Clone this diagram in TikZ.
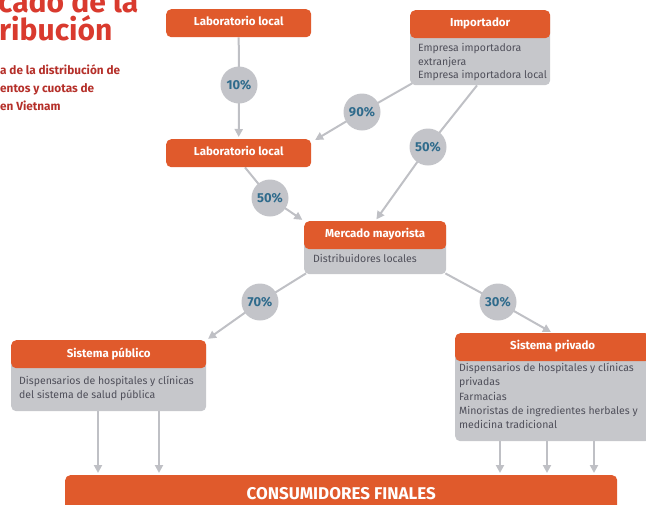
\documentclass[tikz,border=0pt]{standalone}
\usepackage{fontspec}
\setmainfont{Fira Sans}
\usetikzlibrary{arrows.meta,backgrounds}
\definecolor{orng}{HTML}{E05A2C}
\definecolor{boxgray}{HTML}{C6C7CB}
\definecolor{circgray}{HTML}{C3C4C9}
\definecolor{linegray}{HTML}{BFC0C5}
\definecolor{pctblue}{HTML}{2F6B8C}
\definecolor{bodytxt}{HTML}{4F4F5A}
\definecolor{titlered}{HTML}{D93A2E}
\definecolor{subred}{HTML}{B5302A}
\begin{document}
\begin{tikzpicture}[x=1pt,y=-1pt,
  hdr/.style={fill=orng, rounded corners=5pt, text=white, font=\bfseries\fontsize{11.5}{12}\selectfont, anchor=north west, inner sep=0pt, align=center, text depth=4pt},
  bodybox/.style={fill=boxgray, rounded corners=5pt, anchor=north west, inner sep=0pt},
  bodytext/.style={anchor=north west, inner sep=0pt, text=bodytxt, font=\fontsize{10.5}{13.8}\selectfont, align=left},
  pct/.style={circle, fill=circgray, minimum size=37pt, inner sep=0pt, text=pctblue, font=\bfseries\fontsize{13}{13}\selectfont},
  conn/.style={draw=linegray, line width=2pt},
  arr/.style={conn, -{Triangle[length=8pt,width=8pt]}, shorten >=2pt},
  titlef/.style={anchor=base west, inner sep=0pt, text=titlered, font=\bfseries\fontsize{30}{30}\selectfont},
  subf/.style={anchor=base west, inner sep=0pt, text=subred, font=\bfseries\fontsize{11.8}{12}\selectfont}
]
\useasboundingbox (0,0) rectangle (646,504);
\clip (0,0) rectangle (646,504);

% title
\node[titlef] (t1) at (-2,12) {cado de la};
\node[titlef] (t2) at (-1,40) {ribución};
\node[subf] (s1) at (0,74) {a de la distribución de};
\node[subf] (s2) at (0,92) {entos y cuotas de};
\node[subf] (s3) at (0,110) {en Vietnam};

% boxes
\node[hdr, minimum width=145pt, minimum height=28pt] (lab1) at (166,9) {Laboratorio local};
\node[hdr, minimum width=145pt, minimum height=28pt] (lab2) at (166,139) {Laboratorio local};

\node[bodybox, minimum width=140pt, minimum height=73pt] (impb) at (410,12) {};
\node[hdr, minimum width=140pt, minimum height=28pt] (imp) at (410,10) {Importador};
\node[bodytext] (impt) at (418,43) {Empresa importadora\\extranjera\\Empresa importadora local};

\node[bodybox, minimum width=142pt, minimum height=51pt] (mmb) at (304,223) {};
\node[hdr, minimum width=142pt, minimum height=28pt] (mm) at (304,221) {Mercado mayorista};
\node[bodytext] (mmt) at (313,254) {Distribuidores locales};

\node[bodybox, minimum width=195pt, minimum height=69pt] (spb) at (11,342) {};
\node[hdr, minimum width=195pt, minimum height=28pt] (sp) at (11,340) {Sistema público};
\node[bodytext] (spt) at (19,376) {Dispensarios de hospitales y clínicas\\del sistema de salud pública};

\node[bodybox, minimum width=195pt, minimum height=106pt] (sprb) at (455,335) {};
\node[hdr, minimum width=195pt, minimum height=28pt] (spr) at (455,333) {Sistema privado};
\node[bodytext, font=\fontsize{10.5}{14.3}\selectfont] (sprt) at (459,363) {Dispensarios de hospitales y clínicas\\privadas\\Farmacias\\Minoristas de ingredientes herbales y\\medicina tradicional};

\node[hdr, minimum width=552pt, minimum height=36pt, text depth=0pt, font=\bfseries\fontsize{17}{17}\selectfont] (cons) at (65,475) {CONSUMIDORES FINALES};

% percentage circles
\node[pct] (c10) at (239,85) {10\%};
\node[pct] (c90) at (362,112) {90\%};
\node[pct] (c50a) at (428,147) {50\%};
\node[pct] (c50b) at (270,198) {50\%};
\node[pct] (c70) at (260,302) {70\%};
\node[pct] (c30) at (498,302) {30\%};

\coordinate (xa) at (98,0);
\coordinate (xb) at (159,0);
\coordinate (xc) at (500,0);
\coordinate (xd) at (547,0);
\coordinate (xe) at (594,0);
\coordinate (impx) at (477,0);
\coordinate (lab2x) at (245,0);

% connectors
\begin{scope}[on background layer]
\draw[arr] (lab1.south) -- (c10.center) -- (lab2.north);
\draw[arr] ([shift={(2,-2)}]impb.south west) -- (c90.center) -- ([shift={(2,2)}]lab2.north east);
\draw[arr] (impb.south -| impx) -- (c50a.center) -- (mm.north);
\draw[arr] (lab2.south -| lab2x) -- (c50b.center) -- (mm.north west);
\draw[arr] ([shift={(2,-1)}]mmb.south west) -- (c70.center) -- (sp.north east);
\draw[arr] ([shift={(-1,-1)}]mmb.south east) -- (c30.center) -- (spr.north);
\draw[arr] (spb.south -| xa) -- (cons.north -| xa);
\draw[arr] (spb.south -| xb) -- (cons.north -| xb);
\draw[arr] (sprb.south -| xc) -- (cons.north -| xc);
\draw[arr] (sprb.south -| xd) -- (cons.north -| xd);
\draw[arr] (sprb.south -| xe) -- (cons.north -| xe);
\end{scope}
\end{tikzpicture}
\end{document}
